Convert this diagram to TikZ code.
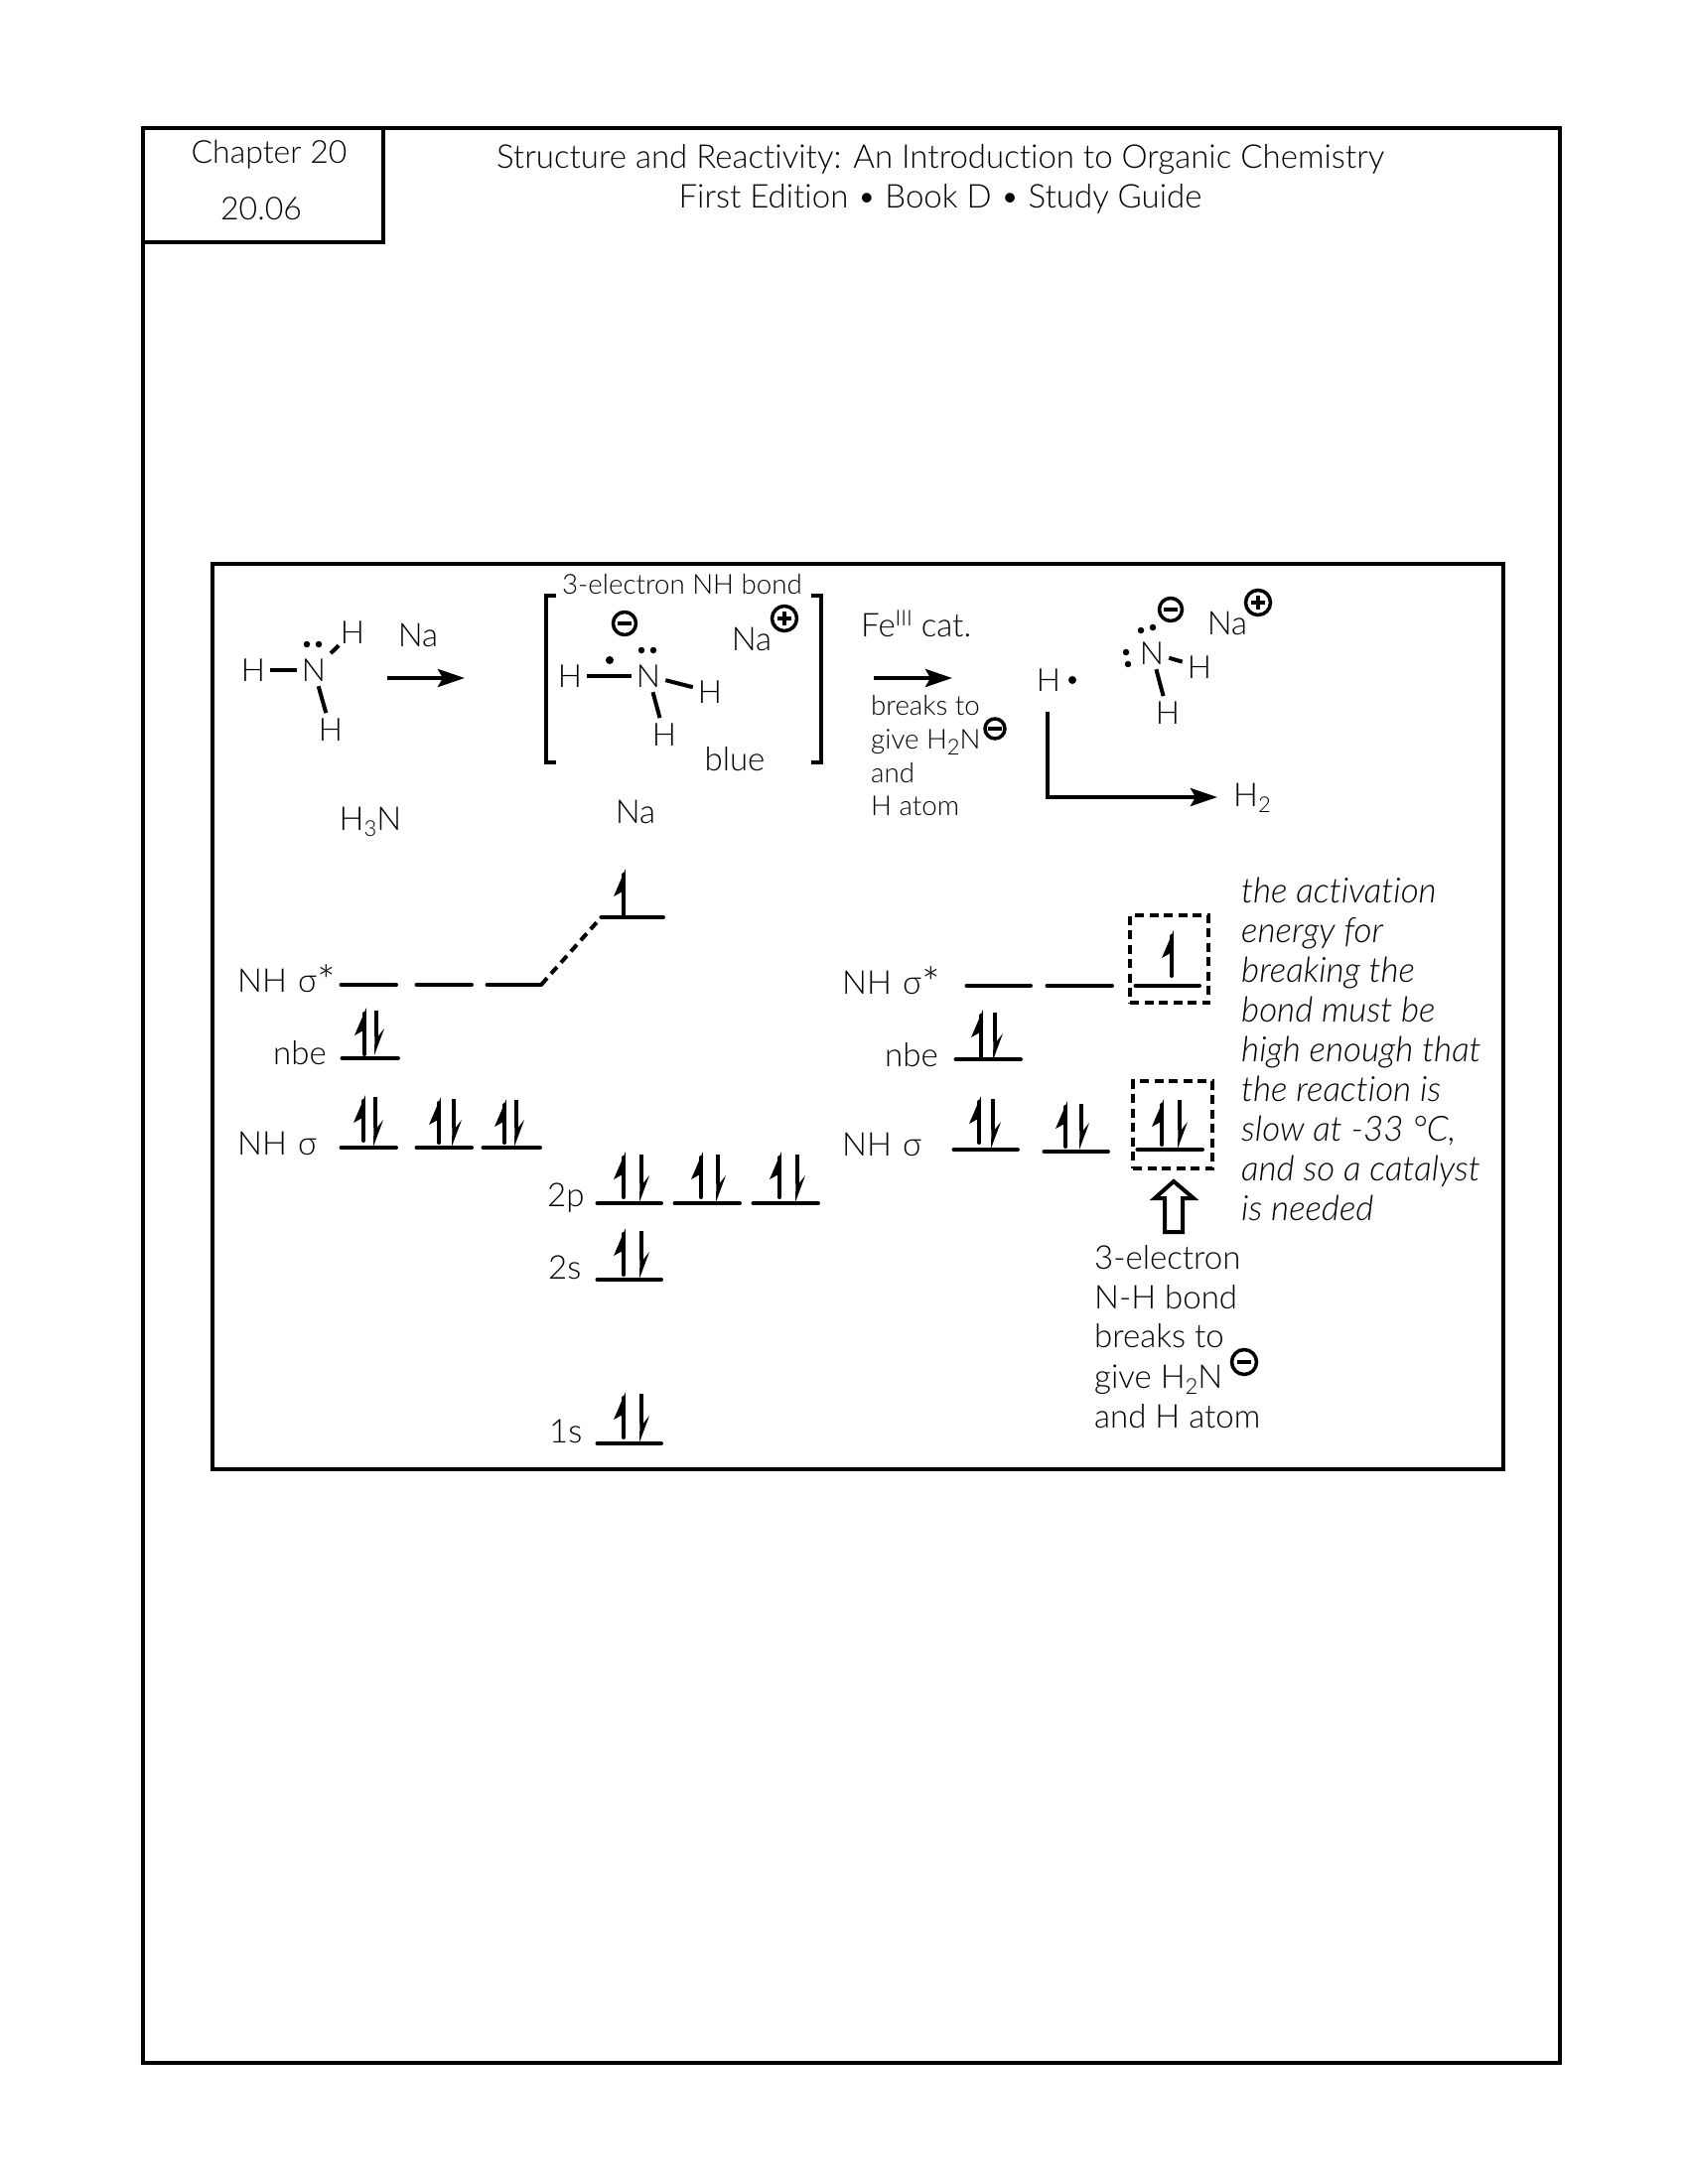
\documentclass[tikz,border=0pt]{standalone}
\usepackage{fontspec}
\setmainfont{Lato Light}[ItalicFont={Lato Light Italic},Ligatures=CommonOff]
\usetikzlibrary{arrows.meta}
\newcommand{\fmain}{\fontsize{33}{40}\selectfont}
\newcommand{\fchap}{\fontsize{32}{38}\selectfont}
\newcommand{\fatom}{\fontsize{32}{38}\selectfont}
\newcommand{\fsm}{\fontsize{27.7}{33}\selectfont}
\newcommand{\fit}{\fontsize{35}{40}\selectfont\itshape}
\newcommand{\sbs}[1]{\raisebox{-6pt}{\fontsize{22}{22}\selectfont #1}}
\newcommand{\sps}[1]{\raisebox{11pt}{\fontsize{22}{22}\selectfont #1}}
\newcommand{\sgm}{NH\hspace{11pt}σ}
\newcommand{\sgs}{NH\hspace{11pt}σ\raisebox{-5pt}{\fontsize{44}{44}\selectfont *}}
\tikzset{
  txt/.style={anchor=base,inner sep=0pt,font=\fmain,yshift=-1pt},
  chp/.style={anchor=base,inner sep=0pt,font=\fchap,yshift=-1pt},
  lft/.style={anchor=base west,inner sep=0pt,font=\fmain,yshift=-1pt},
  small/.style={anchor=base west,inner sep=0pt,font=\fsm,yshift=-1pt},
  ital/.style={anchor=base west,inner sep=0pt,font=\fit,yshift=-1pt},
  atom/.style={anchor=base,inner sep=5pt,font=\fatom},
  frame/.style={draw,line width=4pt},
  lev/.style={line width=4pt,line cap=round},
  bondl/.style={line width=4pt},
  rxn/.style={line width=4pt,-{Stealth[length=27pt,width=18pt,inset=5pt]}},
  dbox/.style={draw,line width=4pt,dash pattern=on 9pt off 5.5pt},
  edot/.style={circle,fill=black,inner sep=0pt,minimum size=6.5pt},
  bigdot/.style={circle,fill=black,inner sep=0pt,minimum size=8pt},
  mns/.style={circle,draw,line width=3.5pt,minimum size=23pt,inner sep=0pt,
    path picture={\draw[line width=4pt] ([xshift=-7pt]path picture bounding box.center)--++(14pt,0pt);}},
  pls/.style={circle,draw,line width=3.5pt,minimum size=25pt,inner sep=0pt,
    path picture={\draw[line width=3.5pt] ([xshift=-7pt]path picture bounding box.center)--++(14pt,0pt);
    \draw[line width=3.5pt] ([yshift=-7pt]path picture bounding box.center)--++(0pt,14pt);}},
}
% level: name, x1, x2, y
\newcommand{\level}[4]{\coordinate (#1a) at (#2+1.5,#4);\coordinate (#1b) at (#3-1,#4);\draw[lev] (#1a)--(#1b);}
% spin arrows: x, top, bottom
\newcommand{\upa}[3]{\draw[line width=4pt,line cap=round] (#1,#2+6)--(#1,#3);
  \fill (#1+2,#2)--(#1-10,#2+28)--(#1+1,#2+22)--cycle;}
\newcommand{\downa}[3]{\draw[line width=3.5pt] (#1,#2)--(#1,#3-19);
  \fill (#1+8,#3-27)--(#1-2,#3)--(#1-1.5,#3-22)--(#1+1.7,#3-19)--cycle;}
\begin{document}
\begin{tikzpicture}[x=1pt,y=-1pt]
\useasboundingbox (0,0) rectangle (1700,2200);
% frames
\node[frame,anchor=north west,minimum width=1427pt,minimum height=1949pt,inner sep=0pt] (outer) at (142,127) {};
\node[frame,anchor=north west,minimum width=242pt,minimum height=115pt,inner sep=0pt] (chapbox) at (142,127) {};
\node[frame,anchor=north west,minimum width=1300pt,minimum height=912pt,inner sep=0pt] (inner) at (212,566) {};
% header
\node[chp] (chap) at (271,163) {Chapter 20};
\node[chp] (num) at (263,220) {20.06};
\node[txt] (title1) at (947,168) {Structure and Reactivity: An Introduction to Organic Chemistry};
\node[txt] (title2) at (947,208) {First Edition • Book D • Study Guide};
% ammonia
\node[atom] (hA) at (255,686) {H};
\node[atom] (nA) at (316,686) {N};
\node[atom,inner sep=2pt] (hB) at (355,648) {H};
\node[atom] (hC) at (333,746) {H};
\node[edot] (dA1) at (309,649) {};
\node[edot] (dA2) at (321,649) {};
\draw[bondl] (hA)--(nA);
\draw[bondl] (nA)--(hB);
\draw[bondl] (nA)--(hC);
\node[txt] (naA) at (421,650) {Na};
\coordinate (arrA1) at (390,683);\coordinate (arrA2) at (468,683);
\draw[rxn] (arrA1)--(arrA2);
\node[txt] (h3n) at (373,835) {H\sbs{3}N};
% bracket
\coordinate (bl1) at (560,600);\coordinate (bl2) at (550,600);\coordinate (bl3) at (550,768);\coordinate (bl4) at (560,768);
\draw[line width=4pt] (bl1)--(bl2)--(bl3)--(bl4);
\coordinate (br1) at (817,600);\coordinate (br2) at (827,600);\coordinate (br3) at (827,768);\coordinate (br4) at (817,768);
\draw[line width=4pt] (br1)--(br2)--(br3)--(br4);
\node[anchor=base,inner sep=0pt,font=\fsm,yshift=-1pt] (tel) at (687,597) {3-electron NH bond};
\node[mns] (mB) at (629,628) {};
\node[edot] (dB1) at (646,655) {};
\node[edot] (dB2) at (658,655) {};
\node[bigdot] (dB3) at (614,665) {};
\node[atom] (hD) at (574,692) {H};
\node[atom] (nB) at (653,692) {N};
\node[atom] (hE) at (715,708) {H};
\node[atom] (hF) at (669,751) {H};
\draw[bondl] (hD)--(nB);
\draw[bondl] (nB)--(hE);
\draw[bondl] (nB)--(hF);
\node[txt] (naB) at (757,654) {Na};
\node[pls] (pB) at (790,623) {};
\node[txt] (blue) at (740,775) {blue};
\node[txt] (naC) at (640,828) {Na};
% catalyst
\node[lft] (fe) at (867,640) {Fe\sps{III} cat.};
\coordinate (arrB1) at (880,683);\coordinate (arrB2) at (959,683);
\draw[rxn] (arrB1)--(arrB2);
\node[small] (tb1) at (877,719) {breaks to};
\node[small] (tb2) at (877,753) {give H\sbs{2}N};
\node[small] (tb3) at (877,787) {and};
\node[small] (tb4) at (877,820) {H atom};
\node[mns,minimum size=20pt] (mC) at (1002,734) {};
% products
\node[atom] (hG) at (1056,696) {H};
\node[bigdot] (dG) at (1080,685) {};
\coordinate (ls) at (1055,717);\coordinate (le) at (1226,803);
\draw[rxn] (ls) |- (le);
\node[lft] (h2) at (1242,811) {H\sbs{2}};
\node[atom] (nC) at (1160,669) {N};
\node[mns] (mD) at (1179,614) {};
\node[edot] (dC1) at (1149,635) {};
\node[edot] (dC2) at (1161,632) {};
\node[edot] (dC3) at (1134,657) {};
\node[edot] (dC4) at (1136,669) {};
\node[atom] (hH) at (1208,683) {H};
\node[atom] (hI) at (1176,729) {H};
\draw[bondl] (nC)--(hH);
\draw[bondl] (nC)--(hI);
\node[txt] (naD) at (1236,638) {Na};
\node[pls] (pD) at (1267,607) {};
% left MO diagram
\node[lft] (ls1) at (239,998) {\sgs};
\node[lft] (ln) at (275,1071) {nbe};
\node[lft] (ls2) at (239,1162) {\sgm};
\level{sa}{342}{400}{992}\level{sb}{418}{476}{992}\level{sc}{489}{546}{992}
\level{na}{604}{669}{924}
\draw[line width=4pt,dash pattern=on 9pt off 6pt] (scb)--(naa);
\upa{628}{875}{922}
\level{nb}{343}{402}{1066}
\upa{367}{1015}{1062}\downa{379}{1018}{1063}
\level{ta}{342}{400}{1156}\level{tb}{418}{476}{1156}\level{tc}{485}{545}{1156}
\upa{366}{1103}{1149}\downa{378}{1105}{1155}
\upa{442}{1105}{1151}\downa{457}{1107}{1155}
\upa{508}{1107}{1151}\downa{520}{1108}{1155}
% atomic orbitals
\node[lft] (p2) at (551,1214) {2p};
\node[lft] (s2) at (552,1287) {2s};
\node[lft] (s1) at (553,1452) {1s};
\level{pa}{600}{667}{1212}\level{pb}{678}{746}{1212}\level{pc}{757}{825}{1212}
\upa{628}{1160}{1206}\downa{646}{1163}{1211}
\upa{706}{1160}{1206}\downa{723}{1163}{1211}
\upa{785}{1160}{1206}\downa{803}{1163}{1211}
\level{qa}{600}{667}{1289}
\upa{628}{1237}{1284}\downa{646}{1240}{1288}
\level{ra}{600}{667}{1454}
\upa{628}{1402}{1448}\downa{646}{1404}{1453}
% right MO diagram
\node[lft] (rs1) at (848,1000) {\sgs};
\node[lft] (rn) at (891,1073) {nbe};
\node[lft] (rs2) at (848,1163) {\sgm};
\level{ua}{972}{1039}{993}\level{ub}{1053}{1121}{993}\level{uc}{1142}{1209}{993}
\upa{1180}{937}{983}
\node[dbox,anchor=north west,minimum width=79pt,minimum height=88pt,inner sep=0pt] (boxA) at (1136,920) {};
\level{va}{961}{1029}{1067}
\upa{988}{1017}{1064}\downa{1002}{1020}{1068}
\level{wa}{959}{1026}{1158}\level{wb}{1050}{1117}{1160}\level{wc}{1144}{1212}{1158}
\upa{986}{1104}{1151}\downa{1000}{1107}{1157}
\upa{1073}{1109}{1155}\downa{1089}{1112}{1158}
\upa{1170}{1107}{1153}\downa{1188}{1108}{1157}
\node[dbox,anchor=north west,minimum width=80pt,minimum height=88pt,inner sep=0pt] (boxB) at (1139,1087) {};
% open arrow
\draw[line width=4pt,fill=white,line join=miter] (1182,1190)--(1202,1207)--(1191,1207)--(1191,1241)--(1173,1241)--(1173,1207)--(1163,1207)--cycle;
% notes
\node[ital] (i1) at (1250,908) {the activation};
\node[ital] (i2) at (1250,948) {energy for};
\node[ital] (i3) at (1250,988) {breaking the};
\node[ital] (i4) at (1250,1028) {bond must be};
\node[ital] (i5) at (1250,1068) {high enough that};
\node[ital] (i6) at (1250,1108) {the reaction is};
\node[ital] (i7) at (1250,1148) {slow at -33 °C,};
\node[ital] (i8) at (1250,1188) {and so a catalyst};
\node[ital] (i9) at (1250,1228) {is needed};
\node[lft] (b1) at (1102,1277) {3-electron};
\node[lft] (b2) at (1102,1317) {N-H bond};
\node[lft] (b3) at (1102,1356) {breaks to};
\node[lft] (b4) at (1102,1397) {give H\sbs{2}N};
\node[lft] (b5) at (1102,1437) {and H atom};
\node[mns,minimum size=25pt] (mE) at (1253,1372) {};
\end{tikzpicture}
\end{document}
